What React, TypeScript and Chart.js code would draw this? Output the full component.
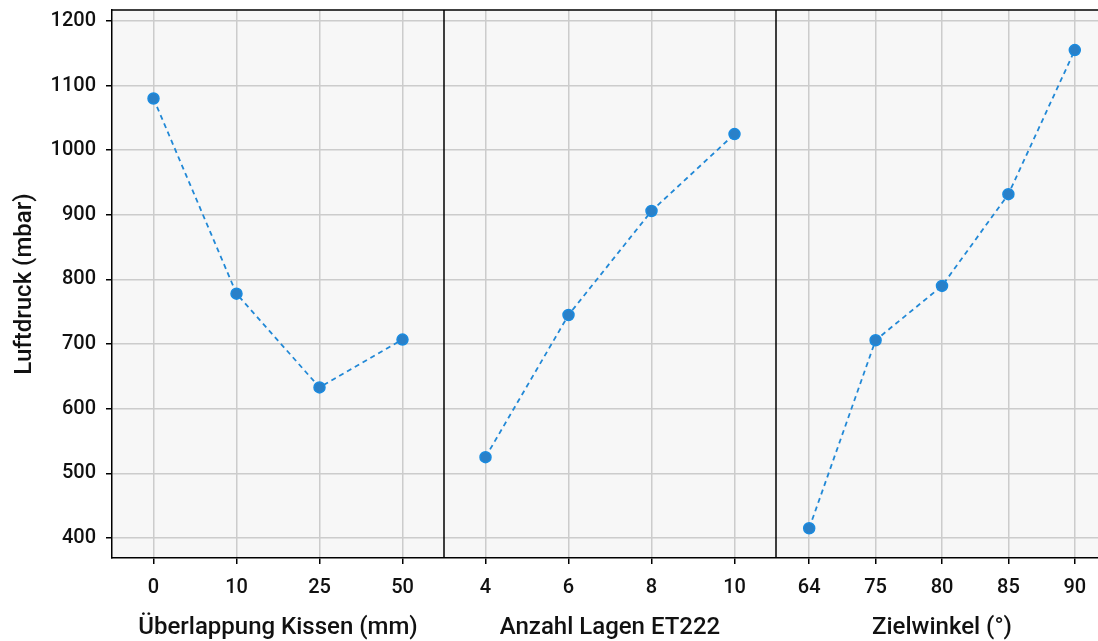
import React, { useEffect, useRef } from 'react';
import { Chart, registerables } from 'chart.js';

Chart.register(...registerables);

// ---- data ----
const overlapLabels = ['0', '10', '25', '50'];
const overlapValues = [1080, 778, 633, 707];

const layerLabels = ['4', '6', '8', '10'];
const layerValues = [525, 745, 906, 1025];

const angleLabels = ['64', '75', '80', '85', '90'];
const angleValues = [415, 706, 790, 932, 1155];

const panelTitles = ['Überlappung Kissen (mm)', 'Anzahl Lagen ET222', 'Zielwinkel (°)'];
const yTickValues = [400, 500, 600, 700, 800, 900, 1000, 1100, 1200];
const yTitle = 'Luftdruck (mbar)';

const yMin = 369;
const yMax = 1217;

const PANEL_SPAN = 4;
const panels = [
  { labels: overlapLabels, values: overlapValues },
  { labels: layerLabels, values: layerValues },
  { labels: angleLabels, values: angleValues },
];

const panelPositions = panels.map((p, pi) =>
  p.labels.map((_, i) => pi * PANEL_SPAN + ((i + 0.5) * PANEL_SPAN) / p.labels.length)
);
const allTickPositions = panelPositions.flat();
const allTickLabels = panels.map((p) => p.labels).flat();

const FONT = "Roboto, 'DejaVu Sans', sans-serif";
const LINE_COLOR = '#2188d6';

export default function App() {
  const canvasRef = useRef<HTMLCanvasElement | null>(null);

  useEffect(() => {
    if (!canvasRef.current) return;

    const panelPlugin = {
      id: 'panelPlugin',
      beforeDraw(chart: any) {
        const { ctx, chartArea: a } = chart;
        ctx.save();
        ctx.fillStyle = '#f7f7f7';
        ctx.fillRect(a.left, a.top, a.right - a.left, a.bottom - a.top);
        ctx.restore();
      },
      afterDraw(chart: any) {
        const { ctx, chartArea: a } = chart;
        const xs = chart.scales.x;
        ctx.save();
        ctx.strokeStyle = '#000000';
        ctx.lineWidth = 1.5;
        // top border
        ctx.beginPath();
        ctx.moveTo(a.left, a.top);
        ctx.lineTo(a.right, a.top);
        ctx.stroke();
        // panel dividers
        for (let p = 1; p < panels.length; p++) {
          const px = xs.getPixelForValue(p * PANEL_SPAN);
          ctx.beginPath();
          ctx.moveTo(px, a.top);
          ctx.lineTo(px, a.bottom);
          ctx.stroke();
        }
        // x titles
        ctx.fillStyle = '#111111';
        ctx.font = `500 24px ${FONT}`;
        ctx.textAlign = 'center';
        ctx.textBaseline = 'middle';
        panelTitles.forEach((t, p) => {
          const cx = xs.getPixelForValue(p * PANEL_SPAN + PANEL_SPAN / 2);
          ctx.fillText(t, cx, 620);
        });
        // y title
        ctx.font = `500 24px ${FONT}`;
        ctx.translate(17, (a.top + a.bottom) / 2);
        ctx.rotate(-Math.PI / 2);
        ctx.fillText(yTitle, 0, 0);
        ctx.restore();
      },
    };

    const datasets = panels.map((p, pi) => ({
      label: panelTitles[pi],
      data: p.values.map((v, i) => ({ x: panelPositions[pi][i], y: v })),
      borderColor: LINE_COLOR,
      borderWidth: 1.8,
      borderDash: [5, 4],
      pointRadius: 5.5,
      pointBackgroundColor: '#2a80c8',
      pointBorderColor: '#1a8be0',
      pointBorderWidth: 1.5,
      fill: false,
      tension: 0,
    }));

    const chart = new Chart(canvasRef.current, {
      type: 'line',
      data: { datasets },
      plugins: [panelPlugin],
      options: {
        animation: false,
        responsive: false,
        layout: { autoPadding: false, padding: { top: 2, right: 2, left: 0, bottom: 0 } },
        plugins: {
          legend: { display: false },
          tooltip: { enabled: false },
          title: { display: false },
        },
        scales: {
          x: {
            type: 'linear',
            min: 0,
            max: PANEL_SPAN * panels.length,
            afterBuildTicks: (scale: any) => {
              scale.ticks = allTickPositions.map((v) => ({ value: v }));
            },
            afterFit: (scale: any) => {
              scale.height = 83;
              scale.paddingLeft = 0;
              scale.paddingRight = 0;
            },
            ticks: {
              autoSkip: false,
              maxRotation: 0,
              padding: 12,
              color: '#111111',
              font: { family: FONT, size: 20, weight: '500' },
              callback: (_v: any, index: number) => allTickLabels[index],
            },
            grid: {
              color: '#cccccc',
              lineWidth: 1.5,
              tickColor: '#000000',
              tickLength: 6,
              drawTicks: true,
            },
            border: { display: true, color: '#000000', width: 1.5 },
          },
          y: {
            type: 'linear',
            min: yMin,
            max: yMax,
            afterBuildTicks: (scale: any) => {
              scale.ticks = yTickValues.map((v) => ({ value: v }));
            },
            afterFit: (scale: any) => {
              scale.width = 104;
              scale.paddingTop = 0;
              scale.paddingBottom = 0;
            },
            ticks: {
              padding: 10,
              color: '#111111',
              font: { family: FONT, size: 20, weight: '500' },
              callback: (v: any) => String(v),
            },
            grid: {
              color: '#cccccc',
              lineWidth: 1.5,
              tickColor: '#000000',
              tickLength: 6,
            },
            border: { display: true, color: '#000000', width: 1.5 },
          },
        },
      },
    });

    return () => chart.destroy();
  }, []);

  return (
    <div
      style={{
        position: 'fixed',
        left: 8,
        top: 8,
        width: 1090,
        height: 633,
        overflow: 'hidden',
      }}
    >
      <canvas ref={canvasRef} width={1102} height={633} style={{ display: 'block' }} />
    </div>
  );
}
